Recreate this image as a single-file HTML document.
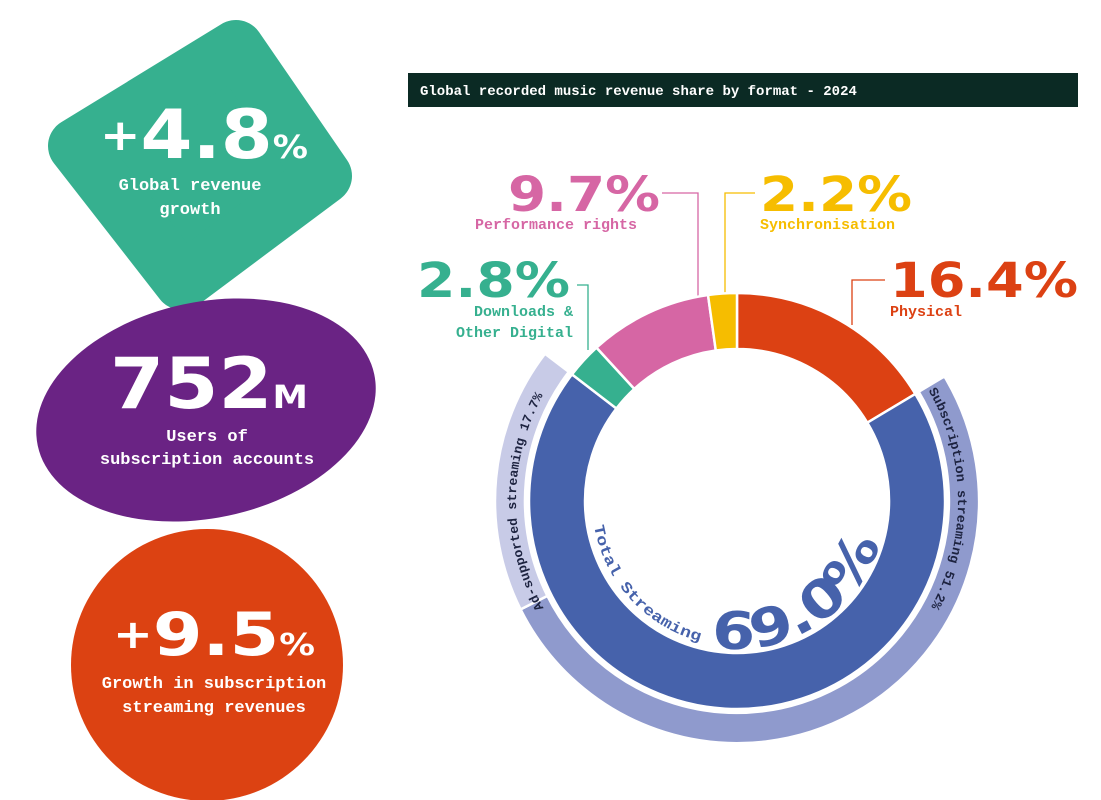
<!DOCTYPE html>
<html><head><meta charset="utf-8"><style>
html,body{margin:0;padding:0;background:#fff;}
svg{display:block;}
.m{font-family:"Liberation Mono",monospace;font-weight:bold;}
.b{font-family:"DejaVu Sans","Liberation Sans",sans-serif;font-weight:bold;}
</style></head><body>
<svg width="1101" height="800" viewBox="0 0 1101 800" xmlns="http://www.w3.org/2000/svg">
<defs>
<path id="inner" d="M592,501 A145,145 0 0 0 882,501"/>
<path id="inner2" d="M589,501 A148,148 0 0 0 885,501"/>
<path id="subArc" d="M928.4,390.5 A221,221 0 0 1 775.4,718.6"/>
<path id="adArc" d="M545.6,611.5 A221,221 0 0 1 567.7,358.9"/>
</defs>

<!-- left shapes -->
<path d="M236,48 L324,176 L182,282 L76,146 Z" fill="#36b08f" stroke="#36b08f" stroke-width="56" stroke-linejoin="round"/>
<text class="b" font-size="68" fill="#fff" x="100" y="158" textLength="208" lengthAdjust="spacingAndGlyphs"><tspan font-size="44" dy="-8">+</tspan><tspan dy="8">4.8</tspan><tspan font-size="32">%</tspan></text>
<text class="m" font-size="17" fill="#fff" x="190" y="190" text-anchor="middle">Global revenue</text>
<text class="m" font-size="17" fill="#fff" x="190" y="214" text-anchor="middle">growth</text>

<ellipse cx="206" cy="410" rx="172" ry="108" transform="rotate(-12 206 410)" fill="#6a2384"/>
<text class="b" font-size="70" fill="#fff" x="110" y="408" textLength="198" lengthAdjust="spacingAndGlyphs">752<tspan font-size="32">M</tspan></text>
<text class="m" font-size="17" fill="#fff" x="207" y="441" text-anchor="middle">Users of</text>
<text class="m" font-size="17" fill="#fff" x="207" y="464" text-anchor="middle">subscription accounts</text>

<circle cx="207" cy="665" r="136" fill="#dc4212"/>
<text class="b" font-size="60" fill="#fff" x="113" y="655" textLength="202" lengthAdjust="spacingAndGlyphs"><tspan font-size="40" dy="-7">+</tspan><tspan dy="7">9.5</tspan><tspan font-size="30">%</tspan></text>
<text class="m" font-size="17" fill="#fff" x="214" y="688" text-anchor="middle">Growth in subscription</text>
<text class="m" font-size="17" fill="#fff" x="214" y="712" text-anchor="middle">streaming revenues</text>

<!-- title -->
<rect x="408" y="73" width="670" height="34" fill="#0b2a24"/>
<text class="m" font-size="14" fill="#fff" x="420" y="95">Global recorded music revenue share by format - 2024</text>

<!-- leader lines -->
<g fill="none" stroke-width="1.3">
<polyline points="662,193 698,193 698,298" stroke="#d666a4"/>
<polyline points="755,193 725,193 725,293" stroke="#f6bd00"/>
<polyline points="885,280 852,280 852,325" stroke="#dc4113"/>
<polyline points="577,285 588,285 588,350" stroke="#36b08f"/>
</g>

<!-- labels -->
<text class="b" font-size="48" fill="#d666a4" x="508" y="211" textLength="152" lengthAdjust="spacingAndGlyphs">9.7%</text>
<text class="m" font-size="15" fill="#d666a4" x="475" y="229">Performance rights</text>
<text class="b" font-size="48" fill="#f6bd00" x="760" y="211" textLength="152" lengthAdjust="spacingAndGlyphs">2.2%</text>
<text class="m" font-size="15" fill="#f6bd00" x="760" y="229">Synchronisation</text>
<text class="b" font-size="48" fill="#dc4113" x="890" y="297" textLength="188" lengthAdjust="spacingAndGlyphs">16.4%</text>
<text class="m" font-size="15" fill="#dc4113" x="890" y="316">Physical</text>
<text class="b" font-size="48" fill="#36b08f" x="417" y="297" textLength="153" lengthAdjust="spacingAndGlyphs">2.8%</text>
<text class="m" font-size="15" fill="#36b08f" x="573" y="316" text-anchor="end">Downloads &amp;</text>
<text class="m" font-size="15" fill="#36b08f" x="573" y="337" text-anchor="end">Other Digital</text>

<!-- donut -->
<g stroke="#fff" stroke-width="2.5" stroke-linejoin="round">
<path d="M944.4,376.4 A242 242 0 1 1 520.6,609.4 L547.4,595.9 A212 212 0 1 0 918.7,391.8 Z" fill="#8f9acd"/>
<path d="M520.6,609.4 A242 242 0 0 1 545.0,353.7 L568.8,371.9 A212 212 0 0 0 547.4,595.9 Z" fill="#c8cbe7"/>
<path d="M737,293 A208,208 0 0 1 915.3,393.9 L867.3,422.7 A152,152 0 0 0 737,349 Z" fill="#dc4113"/>
<path d="M915.3,393.9 A208 208 0 1 1 572.0,374.4 L616.4,408.5 A152 152 0 1 0 867.3,422.7 Z" fill="#4662ab"/>
<path d="M572.0,374.4 A208 208 0 0 1 596.5,347.6 L634.3,388.9 A152 152 0 0 0 616.4,408.5 Z" fill="#36b08f"/>
<path d="M596.5,347.6 A208 208 0 0 1 708.0,295.0 L715.8,350.5 A152 152 0 0 0 634.3,388.9 Z" fill="#d666a4"/>
<path d="M708.0,295.0 A208 208 0 0 1 737,293 L737,349 A152 152 0 0 0 715.8,350.5 Z" fill="#f6bd00"/>
</g>

<text class="m" font-size="13" fill="#1d2340"><textPath href="#subArc" startOffset="0" textLength="226" lengthAdjust="spacingAndGlyphs">Subscription streaming 51.2%</textPath></text>
<text class="m" font-size="13" fill="#1d2340"><textPath href="#adArc" startOffset="4" textLength="222" lengthAdjust="spacingAndGlyphs">Ad-supported streaming 17.7%</textPath></text>
<text class="m" font-size="15" fill="#4662ab"><textPath href="#inner" startOffset="25" textLength="165" lengthAdjust="spacingAndGlyphs">Total Streaming</textPath></text>
<text class="b" font-size="52" fill="#4662ab"><textPath href="#inner2" startOffset="207" textLength="215" lengthAdjust="spacingAndGlyphs">69.0%</textPath></text>
</svg>
</body></html>
